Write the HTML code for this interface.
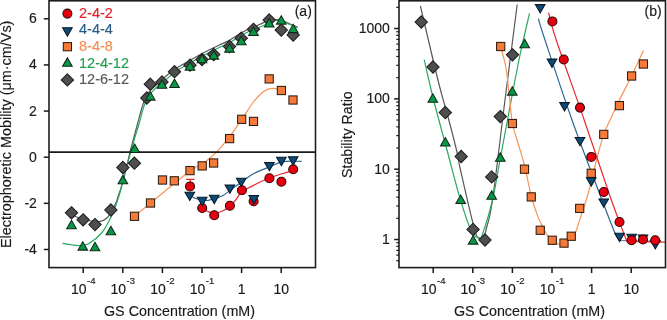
<!DOCTYPE html>
<html><head><meta charset="utf-8"><style>
html,body{margin:0;padding:0;background:#fff;}
body{width:667px;height:320px;overflow:hidden;position:relative;font-family:"Liberation Sans",sans-serif;color:#1a1a1a;}
svg{position:absolute;left:0;top:0;}
#tx{position:absolute;left:0;top:0;width:667px;height:320px;will-change:transform;-webkit-text-stroke:0.15px currentColor;}
.t{position:absolute;white-space:nowrap;line-height:1;font-size:14px;}
.yl{position:absolute;text-align:right;font-size:14px;line-height:1;white-space:nowrap;}
.xl{position:absolute;font-size:14px;line-height:1;white-space:nowrap;transform:translateX(-50%);}
.xl sup{font-size:9.5px;vertical-align:0;position:relative;top:-9.5px;margin-left:0.5px}
.lg{position:absolute;font-size:14.5px;line-height:1;white-space:nowrap;}
.rot{position:absolute;font-size:14.4px;line-height:1;white-space:nowrap;transform-origin:0 0;transform:rotate(-90deg);}
</style></head><body>
<svg width="667" height="320" viewBox="0 0 667 320">
<path d="M72,215 C74.17,215.83 80.33,218.95 85,220 C89.67,221.05 96.25,221.72 100,221.3 C103.75,220.88 105.67,219.22 107.5,217.5 C109.33,215.78 109.67,213.25 111,211 C112.33,208.75 114.3,206.5 115.5,204 C116.7,201.5 117.28,198.67 118.2,196 C119.12,193.33 120.07,191 121,188 C121.93,185 122.72,182.17 123.8,178 C124.88,173.83 126.38,167.67 127.5,163 C128.62,158.33 129.42,154.33 130.5,150 C131.58,145.67 132.83,141.33 134,137 C135.17,132.67 136.33,128.33 137.5,124 C138.67,119.67 139.83,115 141,111 C142.17,107 143.17,103.17 144.5,100 C145.83,96.83 147.08,94.5 149,92 C150.92,89.5 153.33,87.5 156,85 C158.67,82.5 161.73,79.73 165,77 C168.27,74.27 171.43,71.35 175.6,68.6 C179.77,65.85 186.1,62.72 190,60.5 C193.9,58.28 195.67,57.13 199,55.3 C202.33,53.47 206.08,51.45 210,49.5 C213.92,47.55 219.17,45.2 222.5,43.6 C225.83,42 226.46,41.92 230,39.9 C233.54,37.88 238.33,34.3 243.75,31.5 C249.17,28.7 258.29,25.02 262.5,23.1 C266.71,21.18 266.75,20.6 269,20 C271.25,19.4 273.83,19.42 276,19.5 C278.17,19.58 279.67,19.75 282,20.5 C284.33,21.25 287.42,22.92 290,24 C292.58,25.08 296.25,26.5 297.5,27" fill="none" stroke="#585858" stroke-width="1.2"/>
<path d="M62.5,243.4 C64.08,243.67 69.08,244.65 72,245 C74.92,245.35 77.17,245.77 80,245.5 C82.83,245.23 85.33,245.57 89,243.4 C92.67,241.23 98.28,236.97 102,232.5 C105.72,228.03 108.97,221.18 111.3,216.6 C113.63,212.02 114.43,209.43 116,205 C117.57,200.57 119.2,195.67 120.7,190 C122.2,184.33 123.7,176 125,171 C126.3,166 127.42,163.5 128.5,160 C129.58,156.5 130.42,153.83 131.5,150 C132.58,146.17 133.75,141.33 135,137 C136.25,132.67 137.75,128.33 139,124 C140.25,119.67 141.33,114.83 142.5,111 C143.67,107.17 144.58,104 146,101 C147.42,98 149,95.5 151,93 C153,90.5 155.67,88.08 158,86 C160.33,83.92 162.07,82.92 165,80.5 C167.93,78.08 171.43,74.42 175.6,71.5 C179.77,68.58 186.1,65.25 190,63 C193.9,60.75 195.67,59.83 199,58 C202.33,56.17 206.08,54 210,52 C213.92,50 219.17,47.58 222.5,46 C225.83,44.42 226.46,44.5 230,42.5 C233.54,40.5 238.33,36.75 243.75,34 C249.17,31.25 258.29,27.92 262.5,26 C266.71,24.08 266.75,23.42 269,22.5 C271.25,21.58 273.83,20.75 276,20.5 C278.17,20.25 279.67,20.33 282,21 C284.33,21.67 287.42,23.33 290,24.5 C292.58,25.67 296.25,27.42 297.5,28" fill="none" stroke="#28a862" stroke-width="1.2"/>
<path d="M134.5,216.3 C137.17,214.08 144.58,207.88 150.5,203 C156.42,198.12 163.42,192.33 170,187 C176.58,181.67 184.07,175.25 190,171 C195.93,166.75 201.12,164.72 205.6,161.5 C210.08,158.28 212.67,156.15 216.9,151.7 C221.13,147.25 226.78,140.28 231,134.8 C235.22,129.32 238.47,124.27 242.2,118.8 C245.93,113.33 249.88,106.5 253.4,102 C256.92,97.5 260.25,94.07 263.3,91.8 C266.35,89.53 268.67,88.7 271.7,88.4 C274.73,88.1 279.87,89.73 281.5,90" fill="none" stroke="#f79458" stroke-width="1.2"/>
<path d="M190,194.5 C190.92,195.15 192.5,197.43 195.5,198.4 C198.5,199.37 203.58,200.7 208,200.3 C212.42,199.9 217.33,198.38 222,196 C226.67,193.62 230.83,189.67 236,186 C241.17,182.33 247.43,177.18 253,174 C258.57,170.82 264.4,168.97 269.4,166.9 C274.4,164.83 277.62,162.53 283,161.6 C288.38,160.67 298.58,161.35 301.7,161.3" fill="none" stroke="#2d6694" stroke-width="1.2"/>
<path d="M202,208 C203,208.58 206,210.67 208,211.5 C210,212.33 211.4,213.17 214,213 C216.6,212.83 220.18,212.42 223.6,210.5 C227.02,208.58 231.5,204.58 234.5,201.5 C237.5,198.42 238.52,194.65 241.6,192 C244.68,189.35 248.37,187.93 253,185.6 C257.63,183.27 264.4,180.02 269.4,178 C274.4,175.98 278.23,174.95 283,173.5 C287.77,172.05 295.5,170 298,169.3" fill="none" stroke="#e62a30" stroke-width="1.2"/>
<line x1="49" y1="152.2" x2="316" y2="152.2" stroke="#1a1a1a" stroke-width="1.7"/>
<path d="M186,179.4 L194.5,179.4 M190.2,179.4 L190.2,183" stroke="#e42a30" stroke-width="1.3" fill="none"/>
<rect x="130.4" y="212.2" width="8.2" height="8.2" fill="#f67b3a" stroke="#2e1c10" stroke-width="1.05"/>
<rect x="146.4" y="198.9" width="8.2" height="8.2" fill="#f67b3a" stroke="#2e1c10" stroke-width="1.05"/>
<rect x="158.4" y="175.9" width="8.2" height="8.2" fill="#f67b3a" stroke="#2e1c10" stroke-width="1.05"/>
<rect x="170.2" y="176.7" width="8.2" height="8.2" fill="#f67b3a" stroke="#2e1c10" stroke-width="1.05"/>
<rect x="185.9" y="166.5" width="8.2" height="8.2" fill="#f67b3a" stroke="#2e1c10" stroke-width="1.05"/>
<rect x="198.1" y="161.8" width="8.2" height="8.2" fill="#f67b3a" stroke="#2e1c10" stroke-width="1.05"/>
<rect x="209.5" y="158.9" width="8.2" height="8.2" fill="#f67b3a" stroke="#2e1c10" stroke-width="1.05"/>
<rect x="225.5" y="134.5" width="8.2" height="8.2" fill="#f67b3a" stroke="#2e1c10" stroke-width="1.05"/>
<rect x="237.6" y="115.2" width="8.2" height="8.2" fill="#f67b3a" stroke="#2e1c10" stroke-width="1.05"/>
<rect x="249.4" y="117.3" width="8.2" height="8.2" fill="#f67b3a" stroke="#2e1c10" stroke-width="1.05"/>
<rect x="265.1" y="74.8" width="8.2" height="8.2" fill="#f67b3a" stroke="#2e1c10" stroke-width="1.05"/>
<rect x="277.3" y="86.4" width="8.2" height="8.2" fill="#f67b3a" stroke="#2e1c10" stroke-width="1.05"/>
<rect x="288.9" y="95.9" width="8.2" height="8.2" fill="#f67b3a" stroke="#2e1c10" stroke-width="1.05"/>
<path d="M71.5,206.65 L77.65,212.8 L71.5,218.95 L65.35,212.8 Z" fill="#4e4e4e" stroke="#1c1c1c" stroke-width="1.05"/>
<path d="M83.1,213.65 L89.25,219.8 L83.1,225.95 L76.95,219.8 Z" fill="#4e4e4e" stroke="#1c1c1c" stroke-width="1.05"/>
<path d="M95,218.45 L101.15,224.6 L95,230.75 L88.85,224.6 Z" fill="#4e4e4e" stroke="#1c1c1c" stroke-width="1.05"/>
<path d="M110.9,203.85 L117.05,210 L110.9,216.15 L104.75,210 Z" fill="#4e4e4e" stroke="#1c1c1c" stroke-width="1.05"/>
<path d="M122.9,161.35 L129.05,167.5 L122.9,173.65 L116.75,167.5 Z" fill="#4e4e4e" stroke="#1c1c1c" stroke-width="1.05"/>
<path d="M134.4,157.05 L140.55,163.2 L134.4,169.35 L128.25,163.2 Z" fill="#4e4e4e" stroke="#1c1c1c" stroke-width="1.05"/>
<path d="M146.8,91.85 L152.95,98 L146.8,104.15 L140.65,98 Z" fill="#4e4e4e" stroke="#1c1c1c" stroke-width="1.05"/>
<path d="M150.3,78.05 L156.45,84.2 L150.3,90.35 L144.15,84.2 Z" fill="#4e4e4e" stroke="#1c1c1c" stroke-width="1.05"/>
<path d="M162,75.75 L168.15,81.9 L162,88.05 L155.85,81.9 Z" fill="#4e4e4e" stroke="#1c1c1c" stroke-width="1.05"/>
<path d="M174.5,65.55 L180.65,71.7 L174.5,77.85 L168.35,71.7 Z" fill="#4e4e4e" stroke="#1c1c1c" stroke-width="1.05"/>
<path d="M190,59.05 L196.15,65.2 L190,71.35 L183.85,65.2 Z" fill="#4e4e4e" stroke="#1c1c1c" stroke-width="1.05"/>
<path d="M202,53.35 L208.15,59.5 L202,65.65 L195.85,59.5 Z" fill="#4e4e4e" stroke="#1c1c1c" stroke-width="1.05"/>
<path d="M213.75,48.35 L219.9,54.5 L213.75,60.65 L207.6,54.5 Z" fill="#4e4e4e" stroke="#1c1c1c" stroke-width="1.05"/>
<path d="M229.5,40.35 L235.65,46.5 L229.5,52.65 L223.35,46.5 Z" fill="#4e4e4e" stroke="#1c1c1c" stroke-width="1.05"/>
<path d="M241.25,32.05 L247.4,38.2 L241.25,44.35 L235.1,38.2 Z" fill="#4e4e4e" stroke="#1c1c1c" stroke-width="1.05"/>
<path d="M253.5,23.15 L259.65,29.3 L253.5,35.45 L247.35,29.3 Z" fill="#4e4e4e" stroke="#1c1c1c" stroke-width="1.05"/>
<path d="M269.2,13.85 L275.35,20 L269.2,26.15 L263.05,20 Z" fill="#4e4e4e" stroke="#1c1c1c" stroke-width="1.05"/>
<path d="M281.25,23.85 L287.4,30 L281.25,36.15 L275.1,30 Z" fill="#4e4e4e" stroke="#1c1c1c" stroke-width="1.05"/>
<path d="M293.2,28.85 L299.35,35 L293.2,41.15 L287.05,35 Z" fill="#4e4e4e" stroke="#1c1c1c" stroke-width="1.05"/>
<path d="M66.7,228.7 L76.3,228.7 L71.5,220.3 Z" fill="#089746" stroke="#0e2a16" stroke-width="1.05"/>
<path d="M78,250.1 L87.6,250.1 L82.8,241.7 Z" fill="#089746" stroke="#0e2a16" stroke-width="1.05"/>
<path d="M90.2,250.7 L99.8,250.7 L95,242.3 Z" fill="#089746" stroke="#0e2a16" stroke-width="1.05"/>
<path d="M106.1,234.7 L115.7,234.7 L110.9,226.3 Z" fill="#089746" stroke="#0e2a16" stroke-width="1.05"/>
<path d="M118.1,183.8 L127.7,183.8 L122.9,175.4 Z" fill="#089746" stroke="#0e2a16" stroke-width="1.05"/>
<path d="M129.9,152.5 L139.5,152.5 L134.7,144.1 Z" fill="#089746" stroke="#0e2a16" stroke-width="1.05"/>
<path d="M145.5,100.1 L155.1,100.1 L150.3,91.7 Z" fill="#089746" stroke="#0e2a16" stroke-width="1.05"/>
<path d="M157.2,88.3 L166.8,88.3 L162,79.9 Z" fill="#089746" stroke="#0e2a16" stroke-width="1.05"/>
<path d="M169.7,87.5 L179.3,87.5 L174.5,79.1 Z" fill="#089746" stroke="#0e2a16" stroke-width="1.05"/>
<path d="M185.2,70.1 L194.8,70.1 L190,61.7 Z" fill="#089746" stroke="#0e2a16" stroke-width="1.05"/>
<path d="M197.2,62.8 L206.8,62.8 L202,54.4 Z" fill="#089746" stroke="#0e2a16" stroke-width="1.05"/>
<path d="M208.95,59.1 L218.55,59.1 L213.75,50.7 Z" fill="#089746" stroke="#0e2a16" stroke-width="1.05"/>
<path d="M224.7,52.1 L234.3,52.1 L229.5,43.7 Z" fill="#089746" stroke="#0e2a16" stroke-width="1.05"/>
<path d="M236.45,44.7 L246.05,44.7 L241.25,36.3 Z" fill="#089746" stroke="#0e2a16" stroke-width="1.05"/>
<path d="M248.7,35.5 L258.3,35.5 L253.5,27.1 Z" fill="#089746" stroke="#0e2a16" stroke-width="1.05"/>
<path d="M264.4,26.9 L274,26.9 L269.2,18.5 Z" fill="#089746" stroke="#0e2a16" stroke-width="1.05"/>
<path d="M276.45,24.1 L286.05,24.1 L281.25,15.7 Z" fill="#089746" stroke="#0e2a16" stroke-width="1.05"/>
<path d="M288.4,32.6 L298,32.6 L293.2,24.2 Z" fill="#089746" stroke="#0e2a16" stroke-width="1.05"/>
<circle cx="190" cy="186.4" r="4.5" fill="#e3000f" stroke="#2a0404" stroke-width="1.05"/>
<circle cx="202.2" cy="208" r="4.5" fill="#e3000f" stroke="#2a0404" stroke-width="1.05"/>
<circle cx="214.25" cy="215.2" r="4.5" fill="#e3000f" stroke="#2a0404" stroke-width="1.05"/>
<circle cx="229.9" cy="205.8" r="4.5" fill="#e3000f" stroke="#2a0404" stroke-width="1.05"/>
<circle cx="241.9" cy="190.3" r="4.5" fill="#e3000f" stroke="#2a0404" stroke-width="1.05"/>
<circle cx="253.6" cy="201.2" r="4.5" fill="#e3000f" stroke="#2a0404" stroke-width="1.05"/>
<circle cx="269.4" cy="178.2" r="4.5" fill="#e3000f" stroke="#2a0404" stroke-width="1.05"/>
<circle cx="281.4" cy="181.8" r="4.5" fill="#e3000f" stroke="#2a0404" stroke-width="1.05"/>
<circle cx="293.2" cy="169.2" r="4.5" fill="#e3000f" stroke="#2a0404" stroke-width="1.05"/>
<path d="M185,192.15 L194.6,192.15 L189.8,200.55 Z" fill="#0e4a78" stroke="#061824" stroke-width="1.05" stroke-linejoin="miter"/>
<path d="M197.4,197.3 L207,197.3 L202.2,205.7 Z" fill="#0e4a78" stroke="#061824" stroke-width="1.05" stroke-linejoin="miter"/>
<path d="M209.45,195.3 L219.05,195.3 L214.25,203.7 Z" fill="#0e4a78" stroke="#061824" stroke-width="1.05" stroke-linejoin="miter"/>
<path d="M225.1,184.9 L234.7,184.9 L229.9,193.3 Z" fill="#0e4a78" stroke="#061824" stroke-width="1.05" stroke-linejoin="miter"/>
<path d="M236.4,178.2 L246,178.2 L241.2,186.6 Z" fill="#0e4a78" stroke="#061824" stroke-width="1.05" stroke-linejoin="miter"/>
<path d="M249,195.5 L258.6,195.5 L253.8,203.9 Z" fill="#0e4a78" stroke="#061824" stroke-width="1.05" stroke-linejoin="miter"/>
<path d="M264.6,162.4 L274.2,162.4 L269.4,170.8 Z" fill="#0e4a78" stroke="#061824" stroke-width="1.05" stroke-linejoin="miter"/>
<path d="M276.6,157.3 L286.2,157.3 L281.4,165.7 Z" fill="#0e4a78" stroke="#061824" stroke-width="1.05" stroke-linejoin="miter"/>
<path d="M288.4,156.8 L298,156.8 L293.2,165.2 Z" fill="#0e4a78" stroke="#061824" stroke-width="1.05" stroke-linejoin="miter"/>
<rect x="49" y="0.8" width="266.5" height="266.8" fill="none" stroke="#1e1e1e" stroke-width="1.6"/>
<line x1="43.8" y1="18.78" x2="49" y2="18.78" stroke="#1a1a1a" stroke-width="1.5"/>
<line x1="43.8" y1="64.92" x2="49" y2="64.92" stroke="#1a1a1a" stroke-width="1.5"/>
<line x1="43.8" y1="111.06" x2="49" y2="111.06" stroke="#1a1a1a" stroke-width="1.5"/>
<line x1="43.8" y1="157.2" x2="49" y2="157.2" stroke="#1a1a1a" stroke-width="1.5"/>
<line x1="43.8" y1="203.34" x2="49" y2="203.34" stroke="#1a1a1a" stroke-width="1.5"/>
<line x1="43.8" y1="249.48" x2="49" y2="249.48" stroke="#1a1a1a" stroke-width="1.5"/>
<line x1="83.2" y1="267" x2="83.2" y2="273" stroke="#1a1a1a" stroke-width="1.5"/>
<line x1="122.8" y1="267" x2="122.8" y2="273" stroke="#1a1a1a" stroke-width="1.5"/>
<line x1="162.4" y1="267" x2="162.4" y2="273" stroke="#1a1a1a" stroke-width="1.5"/>
<line x1="202" y1="267" x2="202" y2="273" stroke="#1a1a1a" stroke-width="1.5"/>
<line x1="241.6" y1="267" x2="241.6" y2="273" stroke="#1a1a1a" stroke-width="1.5"/>
<line x1="281.2" y1="267" x2="281.2" y2="273" stroke="#1a1a1a" stroke-width="1.5"/>
<path d="M420.4,6 C422.52,15 429.75,46 433.1,60 C436.45,74 438.1,80.83 440.5,90 C442.9,99.17 444.83,105 447.5,115 C450.17,125 454.33,140.83 456.5,150 C458.67,159.17 457.42,156.5 460.5,170 C463.58,183.5 471.75,219.67 475,231 C478.25,242.33 478.58,236.5 480,238 C481.42,239.5 482.92,239.67 483.5,240" fill="none" stroke="#585858" stroke-width="1.2"/>
<path d="M483.5,240 C483.92,238.33 484.5,236.67 486,230 C487.5,223.33 489.33,221.67 492.5,200 C495.67,178.33 500.88,132.58 505,100 C509.12,67.42 515.17,20.42 517.2,4.5" fill="none" stroke="#585858" stroke-width="1.2"/>
<path d="M424.2,59.7 C425.77,66.42 429.8,84.95 433.6,100 C437.4,115.05 442.56,133.47 447,150 C451.44,166.53 456.17,185.62 460.25,199.2 C464.33,212.78 468.46,225.12 471.5,231.5 C474.54,237.88 476.72,236.93 478.5,237.5 C480.28,238.07 479.87,241.15 482.2,234.9 C484.53,228.65 489.53,212.48 492.5,200 C495.47,187.52 496.88,176.67 500,160 C503.12,143.33 507.92,117.5 511.25,100 C514.58,82.5 516.96,69.45 520,55 C523.04,40.55 527.92,20.25 529.5,13.3" fill="none" stroke="#28a862" stroke-width="1.2"/>
<path d="M500.7,46.5 C501.58,50.08 504.55,59.72 506,68 C507.45,76.28 508.33,86.95 509.4,96.2 C510.47,105.45 510.97,115.7 512.4,123.5 C513.83,131.3 516,136.08 518,143 C520,149.92 522.19,156.17 524.4,165 C526.61,173.83 529.07,187.57 531.25,196 C533.43,204.43 535.62,210.5 537.5,215.6 C539.38,220.7 540.92,223.45 542.5,226.6 C544.08,229.75 545.25,232.1 547,234.5 C548.75,236.9 551,239.38 553,241 C555,242.62 557,243.95 559,244.2 C561,244.45 563,243.62 565,242.5 C567,241.38 569.28,239.12 571,237.5 C572.72,235.88 573.53,236.72 575.3,232.8 C577.07,228.88 579.77,219.47 581.6,214 C583.43,208.53 584.57,205.67 586.25,200 C587.93,194.33 589.91,187 591.7,180 C593.49,173 594.99,165.6 597,158 C599.01,150.4 601.42,141.07 603.75,134.4 C606.08,127.73 608.39,123.73 611,118 C613.61,112.27 615.97,107 619.4,100 C622.83,93 627.6,84.23 631.6,76 C635.6,67.77 641.43,54.83 643.4,50.6" fill="none" stroke="#f79458" stroke-width="1.2"/>
<path d="M538.4,18.75 C539.5,22.29 539.4,23.12 545,40 C550.6,56.88 562.82,94.17 572,120 C581.18,145.83 592.83,175.92 600.1,195 C607.37,214.08 612.17,226.92 615.6,234.5 C619.03,242.08 619.85,239.5 620.7,240.5 L661,241.5" fill="none" stroke="#2d6694" stroke-width="1.2"/>
<path d="M548.5,12.75 C549.79,17.29 550.3,22.12 556.25,40 C562.2,57.88 575.31,94.17 584.2,120 C593.09,145.83 602.93,175.92 609.6,195 C616.27,214.08 621.3,226.78 624.2,234.5 C627.1,242.22 626.53,240.17 627,241.3 L665,242.2" fill="none" stroke="#e62a30" stroke-width="1.2"/>
<rect x="496.6" y="42.4" width="8.2" height="8.2" fill="#f67b3a" stroke="#2e1c10" stroke-width="1.05"/>
<rect x="508.3" y="119.4" width="8.2" height="8.2" fill="#f67b3a" stroke="#2e1c10" stroke-width="1.05"/>
<rect x="520.4" y="165.1" width="8.2" height="8.2" fill="#f67b3a" stroke="#2e1c10" stroke-width="1.05"/>
<rect x="527.15" y="192.8" width="8.2" height="8.2" fill="#f67b3a" stroke="#2e1c10" stroke-width="1.05"/>
<rect x="536.15" y="226.15" width="8.2" height="8.2" fill="#f67b3a" stroke="#2e1c10" stroke-width="1.05"/>
<rect x="548.15" y="236.15" width="8.2" height="8.2" fill="#f67b3a" stroke="#2e1c10" stroke-width="1.05"/>
<rect x="559.9" y="239" width="8.2" height="8.2" fill="#f67b3a" stroke="#2e1c10" stroke-width="1.05"/>
<rect x="567.15" y="232.15" width="8.2" height="8.2" fill="#f67b3a" stroke="#2e1c10" stroke-width="1.05"/>
<rect x="575.6" y="204.3" width="8.2" height="8.2" fill="#f67b3a" stroke="#2e1c10" stroke-width="1.05"/>
<rect x="587.15" y="169.2" width="8.2" height="8.2" fill="#f67b3a" stroke="#2e1c10" stroke-width="1.05"/>
<rect x="599.65" y="130.3" width="8.2" height="8.2" fill="#f67b3a" stroke="#2e1c10" stroke-width="1.05"/>
<rect x="615.3" y="101.5" width="8.2" height="8.2" fill="#f67b3a" stroke="#2e1c10" stroke-width="1.05"/>
<rect x="627.5" y="71.9" width="8.2" height="8.2" fill="#f67b3a" stroke="#2e1c10" stroke-width="1.05"/>
<rect x="639.3" y="59.9" width="8.2" height="8.2" fill="#f67b3a" stroke="#2e1c10" stroke-width="1.05"/>
<path d="M421.25,15.85 L427.4,22 L421.25,28.15 L415.1,22 Z" fill="#4e4e4e" stroke="#1c1c1c" stroke-width="1.05"/>
<path d="M433,60.85 L439.15,67 L433,73.15 L426.85,67 Z" fill="#4e4e4e" stroke="#1c1c1c" stroke-width="1.05"/>
<path d="M445.3,106.35 L451.45,112.5 L445.3,118.65 L439.15,112.5 Z" fill="#4e4e4e" stroke="#1c1c1c" stroke-width="1.05"/>
<path d="M461.2,150.35 L467.35,156.5 L461.2,162.65 L455.05,156.5 Z" fill="#4e4e4e" stroke="#1c1c1c" stroke-width="1.05"/>
<path d="M473.1,223.25 L479.25,229.4 L473.1,235.55 L466.95,229.4 Z" fill="#4e4e4e" stroke="#1c1c1c" stroke-width="1.05"/>
<path d="M485,233.85 L491.15,240 L485,246.15 L478.85,240 Z" fill="#4e4e4e" stroke="#1c1c1c" stroke-width="1.05"/>
<path d="M491.7,170.75 L497.85,176.9 L491.7,183.05 L485.55,176.9 Z" fill="#4e4e4e" stroke="#1c1c1c" stroke-width="1.05"/>
<path d="M500.3,110.45 L506.45,116.6 L500.3,122.75 L494.15,116.6 Z" fill="#4e4e4e" stroke="#1c1c1c" stroke-width="1.05"/>
<path d="M512.5,48.65 L518.65,54.8 L512.5,60.95 L506.35,54.8 Z" fill="#4e4e4e" stroke="#1c1c1c" stroke-width="1.05"/>
<path d="M428,102.2 L437.6,102.2 L432.8,93.8 Z" fill="#089746" stroke="#0e2a16" stroke-width="1.05"/>
<path d="M440.5,146 L450.1,146 L445.3,137.6 Z" fill="#089746" stroke="#0e2a16" stroke-width="1.05"/>
<path d="M455.9,203.5 L465.5,203.5 L460.7,195.1 Z" fill="#089746" stroke="#0e2a16" stroke-width="1.05"/>
<path d="M468.3,244.1 L477.9,244.1 L473.1,235.7 Z" fill="#089746" stroke="#0e2a16" stroke-width="1.05"/>
<path d="M486.9,199.3 L496.5,199.3 L491.7,190.9 Z" fill="#089746" stroke="#0e2a16" stroke-width="1.05"/>
<path d="M495.5,161.3 L505.1,161.3 L500.3,152.9 Z" fill="#089746" stroke="#0e2a16" stroke-width="1.05"/>
<path d="M507.5,95.1 L517.1,95.1 L512.3,86.7 Z" fill="#089746" stroke="#0e2a16" stroke-width="1.05"/>
<path d="M519.9,47.7 L529.5,47.7 L524.7,39.3 Z" fill="#089746" stroke="#0e2a16" stroke-width="1.05"/>
<path d="M535.4,4.6 L545,4.6 L540.2,13 Z" fill="#0e4a78" stroke="#061824" stroke-width="1.05" stroke-linejoin="miter"/>
<path d="M547.2,59.1 L556.8,59.1 L552,67.5 Z" fill="#0e4a78" stroke="#061824" stroke-width="1.05" stroke-linejoin="miter"/>
<path d="M559.7,102.6 L569.3,102.6 L564.5,111 Z" fill="#0e4a78" stroke="#061824" stroke-width="1.05" stroke-linejoin="miter"/>
<path d="M575.2,137.4 L584.8,137.4 L580,145.8 Z" fill="#0e4a78" stroke="#061824" stroke-width="1.05" stroke-linejoin="miter"/>
<path d="M586.45,177.7 L596.05,177.7 L591.25,186.1 Z" fill="#0e4a78" stroke="#061824" stroke-width="1.05" stroke-linejoin="miter"/>
<path d="M598.95,198.9 L608.55,198.9 L603.75,207.3 Z" fill="#0e4a78" stroke="#061824" stroke-width="1.05" stroke-linejoin="miter"/>
<path d="M614.8,233.2 L624.4,233.2 L619.6,241.6 Z" fill="#0e4a78" stroke="#061824" stroke-width="1.05" stroke-linejoin="miter"/>
<path d="M626.8,234.2 L636.4,234.2 L631.6,242.6 Z" fill="#0e4a78" stroke="#061824" stroke-width="1.05" stroke-linejoin="miter"/>
<path d="M638.2,234.9 L647.8,234.9 L643,243.3 Z" fill="#0e4a78" stroke="#061824" stroke-width="1.05" stroke-linejoin="miter"/>
<path d="M650.5,240.5 L660.1,240.5 L655.3,248.9 Z" fill="#0e4a78" stroke="#061824" stroke-width="1.05" stroke-linejoin="miter"/>
<circle cx="552.4" cy="21.4" r="4.5" fill="#e3000f" stroke="#2a0404" stroke-width="1.05"/>
<circle cx="563.75" cy="59.5" r="4.5" fill="#e3000f" stroke="#2a0404" stroke-width="1.05"/>
<circle cx="580" cy="107.6" r="4.5" fill="#e3000f" stroke="#2a0404" stroke-width="1.05"/>
<circle cx="591.25" cy="156.9" r="4.5" fill="#e3000f" stroke="#2a0404" stroke-width="1.05"/>
<circle cx="603.75" cy="192" r="4.5" fill="#e3000f" stroke="#2a0404" stroke-width="1.05"/>
<circle cx="619.5" cy="222" r="4.5" fill="#e3000f" stroke="#2a0404" stroke-width="1.05"/>
<circle cx="631.6" cy="240.2" r="4.5" fill="#e3000f" stroke="#2a0404" stroke-width="1.05"/>
<circle cx="643" cy="239.5" r="4.5" fill="#e3000f" stroke="#2a0404" stroke-width="1.05"/>
<circle cx="655.2" cy="240.2" r="4.5" fill="#e3000f" stroke="#2a0404" stroke-width="1.05"/>
<rect x="399" y="0.8" width="266.5" height="266.8" fill="none" stroke="#1e1e1e" stroke-width="1.6"/>
<line x1="396.3" y1="260.67" x2="399" y2="260.67" stroke="#1a1a1a" stroke-width="1.2"/>
<line x1="396.3" y1="255.1" x2="399" y2="255.1" stroke="#1a1a1a" stroke-width="1.2"/>
<line x1="396.3" y1="250.39" x2="399" y2="250.39" stroke="#1a1a1a" stroke-width="1.2"/>
<line x1="396.3" y1="246.32" x2="399" y2="246.32" stroke="#1a1a1a" stroke-width="1.2"/>
<line x1="396.3" y1="242.72" x2="399" y2="242.72" stroke="#1a1a1a" stroke-width="1.2"/>
<line x1="394.2" y1="239.5" x2="399" y2="239.5" stroke="#1a1a1a" stroke-width="1.5"/>
<line x1="396.3" y1="218.33" x2="399" y2="218.33" stroke="#1a1a1a" stroke-width="1.2"/>
<line x1="396.3" y1="205.94" x2="399" y2="205.94" stroke="#1a1a1a" stroke-width="1.2"/>
<line x1="396.3" y1="197.16" x2="399" y2="197.16" stroke="#1a1a1a" stroke-width="1.2"/>
<line x1="396.3" y1="190.34" x2="399" y2="190.34" stroke="#1a1a1a" stroke-width="1.2"/>
<line x1="396.3" y1="184.77" x2="399" y2="184.77" stroke="#1a1a1a" stroke-width="1.2"/>
<line x1="396.3" y1="180.06" x2="399" y2="180.06" stroke="#1a1a1a" stroke-width="1.2"/>
<line x1="396.3" y1="175.99" x2="399" y2="175.99" stroke="#1a1a1a" stroke-width="1.2"/>
<line x1="396.3" y1="172.39" x2="399" y2="172.39" stroke="#1a1a1a" stroke-width="1.2"/>
<line x1="394.2" y1="169.17" x2="399" y2="169.17" stroke="#1a1a1a" stroke-width="1.5"/>
<line x1="396.3" y1="148" x2="399" y2="148" stroke="#1a1a1a" stroke-width="1.2"/>
<line x1="396.3" y1="135.61" x2="399" y2="135.61" stroke="#1a1a1a" stroke-width="1.2"/>
<line x1="396.3" y1="126.83" x2="399" y2="126.83" stroke="#1a1a1a" stroke-width="1.2"/>
<line x1="396.3" y1="120.01" x2="399" y2="120.01" stroke="#1a1a1a" stroke-width="1.2"/>
<line x1="396.3" y1="114.44" x2="399" y2="114.44" stroke="#1a1a1a" stroke-width="1.2"/>
<line x1="396.3" y1="109.73" x2="399" y2="109.73" stroke="#1a1a1a" stroke-width="1.2"/>
<line x1="396.3" y1="105.66" x2="399" y2="105.66" stroke="#1a1a1a" stroke-width="1.2"/>
<line x1="396.3" y1="102.06" x2="399" y2="102.06" stroke="#1a1a1a" stroke-width="1.2"/>
<line x1="394.2" y1="98.84" x2="399" y2="98.84" stroke="#1a1a1a" stroke-width="1.5"/>
<line x1="396.3" y1="77.67" x2="399" y2="77.67" stroke="#1a1a1a" stroke-width="1.2"/>
<line x1="396.3" y1="65.28" x2="399" y2="65.28" stroke="#1a1a1a" stroke-width="1.2"/>
<line x1="396.3" y1="56.5" x2="399" y2="56.5" stroke="#1a1a1a" stroke-width="1.2"/>
<line x1="396.3" y1="49.68" x2="399" y2="49.68" stroke="#1a1a1a" stroke-width="1.2"/>
<line x1="396.3" y1="44.11" x2="399" y2="44.11" stroke="#1a1a1a" stroke-width="1.2"/>
<line x1="396.3" y1="39.4" x2="399" y2="39.4" stroke="#1a1a1a" stroke-width="1.2"/>
<line x1="396.3" y1="35.33" x2="399" y2="35.33" stroke="#1a1a1a" stroke-width="1.2"/>
<line x1="396.3" y1="31.73" x2="399" y2="31.73" stroke="#1a1a1a" stroke-width="1.2"/>
<line x1="394.2" y1="28.51" x2="399" y2="28.51" stroke="#1a1a1a" stroke-width="1.5"/>
<line x1="396.3" y1="7.34" x2="399" y2="7.34" stroke="#1a1a1a" stroke-width="1.2"/>
<line x1="433.2" y1="267" x2="433.2" y2="273" stroke="#1a1a1a" stroke-width="1.5"/>
<line x1="472.8" y1="267" x2="472.8" y2="273" stroke="#1a1a1a" stroke-width="1.5"/>
<line x1="512.4" y1="267" x2="512.4" y2="273" stroke="#1a1a1a" stroke-width="1.5"/>
<line x1="552" y1="267" x2="552" y2="273" stroke="#1a1a1a" stroke-width="1.5"/>
<line x1="591.6" y1="267" x2="591.6" y2="273" stroke="#1a1a1a" stroke-width="1.5"/>
<line x1="631.2" y1="267" x2="631.2" y2="273" stroke="#1a1a1a" stroke-width="1.5"/>
<circle cx="67.4" cy="13.6" r="4.5" fill="#e3000f" stroke="#2a0404" stroke-width="1.05"/>
<path d="M62.6,27.8 L72.2,27.8 L67.4,36.2 Z" fill="#0e4a78" stroke="#061824" stroke-width="1.05" stroke-linejoin="miter"/>
<rect x="63.3" y="42.6" width="8.2" height="8.2" fill="#f67b3a" stroke="#2e1c10" stroke-width="1.05"/>
<path d="M62.6,66.3 L72.2,66.3 L67.4,57.9 Z" fill="#089746" stroke="#0e2a16" stroke-width="1.05"/>
<path d="M67.4,73.75 L73.55,79.9 L67.4,86.05 L61.25,79.9 Z" fill="#4e4e4e" stroke="#1c1c1c" stroke-width="1.05"/>
</svg>
<div id="tx">
<div class="yl" style="right:630.1px;top:11.28px">6</div>
<div class="yl" style="right:630.1px;top:57.42px">4</div>
<div class="yl" style="right:630.1px;top:103.56px">2</div>
<div class="yl" style="right:630.1px;top:149.7px">0</div>
<div class="yl" style="right:630.1px;top:195.84px">-2</div>
<div class="yl" style="right:630.1px;top:241.98px">-4</div>
<div class="yl" style="right:277.2px;top:21.01px">1000</div>
<div class="yl" style="right:277.2px;top:91.34px">100</div>
<div class="yl" style="right:277.2px;top:161.67px">10</div>
<div class="yl" style="right:277.2px;top:232px">1</div>
<div class="xl" style="left:83.2px;top:281.5px">10<sup>-4</sup></div>
<div class="xl" style="left:122.8px;top:281.5px">10<sup>-3</sup></div>
<div class="xl" style="left:162.4px;top:281.5px">10<sup>-2</sup></div>
<div class="xl" style="left:202px;top:281.5px">10<sup>-1</sup></div>
<div class="xl" style="left:241.6px;top:281.5px">1</div>
<div class="xl" style="left:281.2px;top:281.5px">10</div>
<div class="t" style="left:104px;top:304px;font-size:14.3px">GS Concentration (mM)</div>
<div class="xl" style="left:433.2px;top:281.5px">10<sup>-4</sup></div>
<div class="xl" style="left:472.8px;top:281.5px">10<sup>-3</sup></div>
<div class="xl" style="left:512.4px;top:281.5px">10<sup>-2</sup></div>
<div class="xl" style="left:552px;top:281.5px">10<sup>-1</sup></div>
<div class="xl" style="left:591.6px;top:281.5px">1</div>
<div class="xl" style="left:631.2px;top:281.5px">10</div>
<div class="t" style="left:454px;top:304px;font-size:14.3px">GS Concentration (mM)</div>
<div class="t" style="left:294.7px;top:4px">(a)</div>
<div class="t" style="left:644.6px;top:4px">(b)</div>
<div class="lg" style="left:79px;top:6px;color:#e0202a">2-4-2</div>
<div class="lg" style="left:79px;top:22.4px;color:#2a5b85">4-4-4</div>
<div class="lg" style="left:79px;top:38.8px;color:#f58d50">8-4-8</div>
<div class="lg" style="left:79px;top:56px;color:#1ea04c">12-4-12</div>
<div class="lg" style="left:79px;top:71.8px;color:#585858">12-6-12</div>
<div class="rot" style="left:-1px;top:248px">Electrophoretic Mobility (&#956;m&#183;cm/Vs)</div>
<div class="rot" style="left:340px;top:177.6px;font-size:14.2px">Stability Ratio</div>
</div>
</body></html>
